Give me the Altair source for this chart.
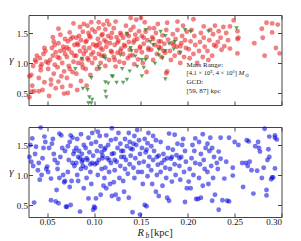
import altair as alt
import pandas as pd

# ---------------- data ----------------
red_points = [
    (0.031, 0.43), (0.033, 0.52), (0.036, 0.53), (0.031, 0.78), (0.033, 0.80), (0.035, 0.95), (0.038, 1.02),
    (0.037, 1.05), (0.039, 1.12), (0.034, 0.62),
    (0.041, 0.53), (0.045, 0.55), (0.047, 0.68), (0.043, 0.88), (0.043, 0.94), (0.042, 1.08), (0.046, 1.15),
    (0.048, 1.20), (0.044, 0.98), (0.049, 1.02), (0.047, 1.25), (0.041, 0.75),
    (0.052, 0.45), (0.054, 0.64), (0.054, 0.72), (0.057, 0.82), (0.051, 0.90), (0.058, 0.97), (0.053, 1.05),
    (0.056, 1.12), (0.059, 1.18), (0.055, 1.25), (0.058, 1.30), (0.057, 1.36), (0.056, 1.43), (0.051, 1.00),
    (0.059, 0.58),
    (0.068, 0.49), (0.062, 0.69), (0.065, 0.78), (0.068, 0.86), (0.061, 0.93), (0.066, 1.00), (0.063, 1.08),
    (0.069, 1.15), (0.064, 1.20), (0.067, 1.27), (0.062, 1.33), (0.069, 1.40), (0.064, 1.47), (0.062, 1.57),
    (0.061, 1.10), (0.068, 1.22), (0.066, 0.60),
    (0.072, 0.50), (0.075, 0.62), (0.071, 0.75), (0.077, 0.85), (0.073, 0.95), (0.078, 1.02), (0.071, 1.10),
    (0.076, 1.17), (0.073, 1.23), (0.079, 1.30), (0.072, 1.36), (0.077, 1.43), (0.074, 1.51), (0.078, 1.66),
    (0.079, 1.12), (0.071, 1.26), (0.074, 0.90), (0.075, 1.40),
    (0.082, 0.55), (0.086, 0.70), (0.081, 0.82), (0.088, 0.92), (0.083, 1.00), (0.087, 1.06), (0.081, 1.12),
    (0.085, 1.20), (0.089, 1.26), (0.082, 1.32), (0.086, 1.38), (0.084, 1.45), (0.088, 1.52), (0.085, 1.60),
    (0.089, 1.15), (0.083, 1.30), (0.081, 1.42), (0.087, 0.98), (0.089, 1.65),
    (0.092, 0.62), (0.096, 0.80), (0.091, 0.90), (0.098, 1.00), (0.093, 1.08), (0.097, 1.14), (0.091, 1.20),
    (0.095, 1.25), (0.099, 1.31), (0.092, 1.37), (0.096, 1.43), (0.094, 1.50), (0.098, 1.56), (0.093, 1.62),
    (0.097, 1.68), (0.099, 1.18), (0.091, 1.35), (0.095, 1.45), (0.094, 1.05),
    (0.103, 0.90), (0.107, 1.00), (0.101, 1.08), (0.105, 1.15), (0.109, 1.22), (0.102, 1.28), (0.106, 1.33),
    (0.104, 1.40), (0.108, 1.46), (0.101, 1.52), (0.105, 1.58), (0.110, 1.64), (0.105, 1.68), (0.108, 1.12),
    (0.103, 1.30), (0.109, 1.48), (0.107, 1.25),
    (0.112, 0.95), (0.116, 1.05), (0.111, 1.12), (0.118, 1.20), (0.113, 1.27), (0.117, 1.33), (0.111, 1.38),
    (0.115, 1.45), (0.119, 1.50), (0.112, 1.56), (0.116, 1.64), (0.114, 1.70), (0.119, 1.18), (0.113, 1.35),
    (0.118, 1.42),
    (0.123, 0.94), (0.127, 1.02), (0.121, 1.10), (0.125, 1.17), (0.129, 1.24), (0.122, 1.30), (0.126, 1.37),
    (0.124, 1.43), (0.128, 1.50), (0.121, 1.58), (0.123, 1.69), (0.128, 1.20), (0.125, 1.34), (0.129, 1.47),
    (0.122, 1.05),
    (0.132, 1.00), (0.136, 1.08), (0.131, 1.15), (0.138, 1.22), (0.133, 1.28), (0.137, 1.35), (0.131, 1.42),
    (0.135, 1.48), (0.139, 1.55), (0.134, 1.62), (0.139, 1.75), (0.138, 1.12), (0.132, 1.30), (0.137, 1.45),
    (0.143, 0.98), (0.147, 1.06), (0.141, 1.13), (0.145, 1.20), (0.149, 1.27), (0.142, 1.34), (0.146, 1.40),
    (0.144, 1.47), (0.148, 1.53), (0.142, 1.60), (0.145, 1.72), (0.149, 1.25), (0.143, 1.38),
    (0.152, 1.00), (0.156, 1.10), (0.151, 1.18), (0.158, 1.25), (0.153, 1.32), (0.157, 1.38), (0.151, 1.45),
    (0.155, 1.52), (0.159, 1.58), (0.154, 1.68), (0.150, 1.75), (0.158, 1.22), (0.153, 1.42), (0.156, 0.85),
    (0.163, 1.05), (0.167, 1.15), (0.161, 1.22), (0.165, 1.30), (0.169, 1.36), (0.162, 1.43), (0.166, 1.50),
    (0.164, 1.58), (0.168, 1.65), (0.169, 1.27), (0.163, 1.40),
    (0.177, 0.83), (0.178, 0.86), (0.172, 1.10), (0.176, 1.17), (0.171, 1.25), (0.175, 1.32), (0.179, 1.39),
    (0.173, 1.46), (0.177, 1.55), (0.178, 1.67), (0.174, 1.20), (0.171, 1.36),
    (0.182, 1.05), (0.186, 1.12), (0.181, 1.20), (0.188, 1.27), (0.183, 1.33), (0.187, 1.40), (0.184, 1.48),
    (0.189, 1.55), (0.189, 1.69), (0.185, 1.30),
    (0.192, 1.00), (0.196, 1.10), (0.191, 1.17), (0.198, 1.25), (0.193, 1.33), (0.197, 1.38), (0.194, 1.45),
    (0.199, 1.52), (0.195, 1.62), (0.192, 1.28),
    (0.202, 1.08), (0.206, 1.15), (0.201, 1.23), (0.208, 1.30), (0.203, 1.36), (0.207, 1.45), (0.206, 1.73),
    (0.204, 1.55),
    (0.210, 1.00), (0.216, 1.10), (0.212, 1.20), (0.218, 1.27), (0.213, 1.35), (0.217, 1.42), (0.217, 1.61),
    (0.214, 1.50),
    (0.222, 1.05), (0.226, 1.12), (0.221, 1.20), (0.228, 1.30), (0.223, 1.38), (0.227, 1.48), (0.224, 1.55),
    (0.229, 1.62),
    (0.230, 1.28), (0.235, 1.42), (0.233, 1.53), (0.238, 1.60), (0.236, 1.22), (0.232, 1.35),
    (0.245, 1.24), (0.243, 1.38), (0.245, 1.61), (0.249, 1.71), (0.241, 1.50), (0.239, 1.28),
    (0.253, 1.16), (0.253, 1.40), (0.254, 1.42), (0.253, 1.53),
    (0.271, 1.33), (0.279, 1.57), (0.280, 1.42),
    (0.284, 1.67), (0.282, 1.12),
    (0.290, 1.66), (0.296, 1.64), (0.290, 1.51), (0.294, 1.25), (0.298, 1.16),
]

green_points = [
    (0.087, 1.07), (0.080, 0.90), (0.088, 0.57), (0.093, 0.55), (0.095, 0.43), (0.094, 0.33), (0.097, 0.33),
    (0.106, 0.90), (0.112, 1.07), (0.112, 0.68), (0.115, 0.66), (0.113, 0.43), (0.120, 0.77), (0.128, 1.13),
    (0.130, 0.90), (0.135, 0.72), (0.135, 1.49), (0.139, 1.25), (0.140, 1.20), (0.151, 1.05), (0.155, 1.05),
    (0.155, 1.55), (0.153, 0.92), (0.171, 1.52), (0.176, 1.45), (0.180, 1.32), (0.169, 1.22), (0.176, 1.20),
    (0.169, 1.13), (0.173, 1.08), (0.186, 1.35), (0.185, 1.23), (0.192, 1.17), (0.197, 1.55), (0.203, 1.52),
    (0.222, 1.53), (0.252, 1.58), (0.165, 0.99), (0.176, 0.73), (0.160, 1.35), (0.097, 0.75), (0.124, 0.67),
    (0.131, 0.67), (0.119, 0.78), (0.112, 0.52), (0.138, 0.86), (0.146, 0.94), (0.151, 0.78), (0.110, 1.10),
    (0.105, 0.94), (0.144, 1.11), (0.098, 0.39), (0.163, 1.30),
]

blue_points = [
    (0.031, 1.30), (0.034, 1.61), (0.038, 1.47), (0.040, 1.08), (0.033, 1.22), (0.036, 0.54), (0.035, 1.15),
    (0.032, 1.50), (0.037, 1.35),
    (0.043, 1.79), (0.047, 1.64), (0.045, 1.28), (0.049, 1.10), (0.042, 0.92), (0.046, 1.45), (0.041, 1.20),
    (0.048, 1.55), (0.044, 1.00),
    (0.050, 1.14), (0.054, 0.94), (0.054, 0.58), (0.060, 0.75), (0.052, 1.45), (0.057, 1.35), (0.055, 1.52),
    (0.058, 1.25), (0.051, 1.05), (0.059, 0.56), (0.056, 1.60),
    (0.063, 1.69), (0.065, 1.66), (0.062, 0.53), (0.068, 0.88), (0.069, 0.90), (0.061, 1.20), (0.066, 1.45),
    (0.064, 1.30), (0.067, 1.00), (0.069, 1.40), (0.063, 0.95), (0.061, 1.10), (0.070, 0.47),
    (0.077, 1.62), (0.075, 1.66), (0.072, 1.48), (0.078, 1.35), (0.073, 1.25), (0.079, 1.15), (0.071, 0.47),
    (0.074, 0.80), (0.076, 0.90), (0.072, 1.05), (0.079, 1.40), (0.074, 1.55), (0.077, 1.20), (0.075, 0.50),
    (0.085, 0.39), (0.089, 0.78), (0.082, 1.00), (0.086, 1.10), (0.081, 1.20), (0.088, 1.25), (0.083, 1.30),
    (0.087, 1.35), (0.084, 1.40), (0.089, 1.50), (0.082, 1.60), (0.086, 1.68), (0.088, 1.15), (0.085, 1.28),
    (0.083, 0.90), (0.081, 1.45), (0.087, 1.22),
    (0.094, 0.61), (0.097, 0.85), (0.092, 0.95), (0.096, 1.05), (0.091, 1.12), (0.098, 1.20), (0.093, 1.25),
    (0.099, 1.32), (0.095, 1.38), (0.091, 1.45), (0.097, 1.52), (0.094, 1.62), (0.098, 1.70), (0.092, 1.28),
    (0.096, 1.18), (0.099, 0.42),
    (0.100, 0.47), (0.101, 0.45), (0.102, 0.61), (0.107, 0.67), (0.110, 0.82), (0.104, 1.00), (0.108, 1.10),
    (0.101, 1.18), (0.105, 1.25), (0.109, 1.32), (0.103, 1.40), (0.107, 1.48), (0.102, 1.55), (0.106, 1.65),
    (0.104, 1.72), (0.109, 1.28), (0.103, 1.20), (0.108, 1.38),
    (0.113, 0.78), (0.117, 0.85), (0.111, 0.95), (0.116, 1.05), (0.112, 1.12), (0.118, 1.20), (0.114, 1.28),
    (0.119, 1.35), (0.111, 1.42), (0.115, 1.50), (0.118, 1.58), (0.113, 1.66), (0.119, 1.78), (0.116, 1.25),
    (0.112, 1.45), (0.119, 0.65),
    (0.123, 0.67), (0.126, 0.60), (0.121, 0.88), (0.127, 0.95), (0.122, 1.08), (0.128, 1.15), (0.124, 1.22),
    (0.129, 1.30), (0.121, 1.36), (0.125, 1.45), (0.128, 1.52), (0.123, 1.60), (0.126, 1.70), (0.129, 1.40),
    (0.122, 1.25),
    (0.132, 0.72), (0.137, 0.62), (0.131, 0.90), (0.136, 1.02), (0.133, 1.10), (0.138, 1.18), (0.134, 1.25),
    (0.139, 1.32), (0.131, 1.40), (0.135, 1.48), (0.138, 1.55), (0.133, 1.60), (0.137, 1.70), (0.139, 1.44),
    (0.132, 1.30),
    (0.141, 0.38), (0.149, 0.34), (0.143, 0.95), (0.147, 1.05), (0.142, 1.12), (0.148, 1.20), (0.144, 1.28),
    (0.149, 1.35), (0.141, 1.43), (0.145, 1.50), (0.148, 1.58), (0.143, 1.65), (0.146, 1.75), (0.142, 1.52),
    (0.154, 0.50), (0.156, 0.48), (0.152, 0.85), (0.157, 0.98), (0.151, 1.05), (0.158, 1.15), (0.153, 1.22),
    (0.159, 1.30), (0.155, 1.38), (0.151, 1.45), (0.157, 1.53), (0.154, 1.60), (0.158, 1.70), (0.156, 1.42),
    (0.166, 0.72), (0.169, 0.65), (0.162, 0.85), (0.167, 1.00), (0.161, 1.08), (0.168, 1.17), (0.163, 1.25),
    (0.169, 1.32), (0.164, 1.40), (0.161, 1.48), (0.166, 1.58), (0.163, 1.65), (0.167, 1.30),
    (0.173, 0.82), (0.177, 0.95), (0.171, 1.05), (0.176, 1.12), (0.172, 1.20), (0.178, 1.28), (0.174, 1.35),
    (0.179, 1.45), (0.171, 1.55), (0.180, 1.69), (0.175, 1.25), (0.178, 0.62),
    (0.180, 0.57), (0.183, 0.89), (0.187, 1.00), (0.181, 1.10), (0.186, 1.18), (0.182, 1.27), (0.188, 1.33),
    (0.184, 1.42), (0.189, 1.52), (0.186, 1.67), (0.183, 1.30),
    (0.197, 0.55), (0.199, 0.78), (0.192, 0.92), (0.196, 1.05), (0.191, 1.15), (0.198, 1.22), (0.193, 1.30),
    (0.197, 1.40), (0.194, 1.50), (0.195, 1.60), (0.191, 1.28),
    (0.203, 0.78), (0.201, 0.89), (0.206, 1.00), (0.202, 1.10), (0.208, 1.20), (0.204, 1.28), (0.207, 1.40),
    (0.208, 1.61), (0.205, 1.50), (0.209, 0.60),
    (0.211, 0.60), (0.214, 0.62), (0.216, 0.82), (0.212, 0.95), (0.218, 1.10), (0.213, 1.18), (0.217, 1.25),
    (0.214, 1.35), (0.219, 1.45), (0.212, 1.55), (0.216, 1.68),
    (0.226, 0.57), (0.229, 0.67), (0.222, 0.85), (0.227, 0.95), (0.221, 1.05), (0.225, 1.15), (0.228, 1.30),
    (0.223, 1.40), (0.226, 1.45), (0.221, 1.52), (0.224, 1.62),
    (0.233, 0.42), (0.237, 0.58), (0.239, 0.94), (0.232, 1.10), (0.235, 1.27), (0.233, 1.39), (0.235, 1.62),
    (0.231, 1.20),
    (0.242, 0.57), (0.244, 0.56), (0.248, 0.99), (0.248, 1.12), (0.241, 1.22), (0.244, 1.62), (0.250, 1.55),
    (0.259, 0.80), (0.258, 1.20), (0.254, 1.50),
    (0.270, 0.69), (0.268, 1.08), (0.262, 1.20), (0.264, 1.15), (0.263, 1.58), (0.265, 1.56), (0.266, 1.22),
    (0.274, 1.07), (0.277, 1.39), (0.276, 1.45), (0.275, 1.55), (0.272, 1.48), (0.279, 0.95),
    (0.284, 0.75), (0.284, 0.66), (0.290, 0.96), (0.281, 1.12), (0.285, 1.25), (0.287, 1.30), (0.286, 1.43),
    (0.287, 1.64), (0.282, 1.77), (0.289, 0.93),
    (0.291, 0.96), (0.293, 1.11), (0.293, 1.62), (0.293, 1.66), (0.295, 1.59),
]

x_ticks = [0.05, 0.10, 0.15, 0.20, 0.25, 0.30]
y_ticks = [0.5, 1.0, 1.5]
x_domain = [0.03, 0.30]
y_domain = [0.3, 1.8]

annotation_lines = ["Mass Range:", "[4.1 × 10⁵, 4 × 10⁶]", "GCD:", "[59, 87] kpc"]

# ---------------- styling ----------------
FONT = "Liberation Serif"
W, H = 253, 90
RED, BLUE, GREEN = "#e31a1c", "#0000dd", "#1f7a1f"

red_df = pd.DataFrame(red_points, columns=["rb", "gamma"])
green_df = pd.DataFrame(green_points, columns=["rb", "gamma"])
blue_df = pd.DataFrame(blue_points, columns=["rb", "gamma"])
one = pd.DataFrame({"k": [0]})

xs = alt.Scale(domain=x_domain, nice=False, zero=False)
ys = alt.Scale(domain=y_domain, nice=False, zero=False)

common = dict(offset=-4, tickSize=4, domain=False, tickColor="#444", tickWidth=1, grid=False,
              labelFont=FONT, labelFontSize=9, labelColor="#111", title=None)


def x_axis(orient, labels):
    return alt.Axis(orient=orient, values=x_ticks, format=".2f", labels=labels, labelPadding=0, **common)


def y_axis(orient, labels):
    return alt.Axis(orient=orient, values=y_ticks, format=".1f", labels=labels, labelPadding=1, **common)


def text(label, x, y, size=7, style="normal", align="left"):
    return alt.Chart(one).mark_text(
        text=label, font=FONT, fontSize=size, fontStyle=style, align=align,
        baseline="middle", color="#222"
    ).encode(x=alt.value(x), y=alt.value(y))


def panel(main_layers, extras):
    frame = alt.Chart(red_df).mark_point(opacity=0).encode(
        x=alt.X("rb:Q", scale=xs, axis=x_axis("top", False)),
        y=alt.Y("gamma:Q", scale=ys, axis=y_axis("right", False)),
    )
    gamma_label = text("γ", -17, H / 2, size=11, style="italic", align="center")
    return alt.layer(*main_layers, frame, gamma_label, *extras).resolve_axis(
        x="independent", y="independent"
    ).properties(width=W, height=H)


red = alt.Chart(red_df).mark_circle(size=24, color=RED, opacity=0.55).encode(
    x=alt.X("rb:Q", scale=xs, axis=x_axis("bottom", False)),
    y=alt.Y("gamma:Q", scale=ys, axis=y_axis("left", True)),
)
green = alt.Chart(green_df).mark_point(shape="triangle-down", filled=True, size=20, color=GREEN,
                                         opacity=0.7).encode(
    x=alt.X("rb:Q", scale=xs, axis=None),
    y=alt.Y("gamma:Q", scale=ys, axis=None),
)
blue = alt.Chart(blue_df).mark_circle(size=24, color=BLUE, opacity=0.55).encode(
    x=alt.X("rb:Q", scale=xs, axis=x_axis("bottom", True)),
    y=alt.Y("gamma:Q", scale=ys, axis=y_axis("left", True)),
)

top_texts = [
    text(annotation_lines[0], 158, 50),
    text(annotation_lines[1], 158, 58, size=6.5),
    text("M", 210, 58, style="italic"),
    text("⊙", 216.5, 60, size=5),
    text(annotation_lines[2], 158, 67),
    text(annotation_lines[3], 158, 76),
]
bottom_texts = [
    text("R", 109, 106, size=10.5, style="italic"),
    text("b", 117, 109, size=7.5, style="italic"),
    text("[kpc]", 122, 106, size=10.5),
]

top = panel([red, green], top_texts)
bottom = panel([blue], bottom_texts)

chart = alt.vconcat(top, bottom, spacing=18).properties(
    padding={"left": 0.5, "top": 6, "right": 5, "bottom": 0},
    background="white",
).configure_view(stroke="#444", strokeWidth=1)

chart.save("out.html", embed_options={"renderer": "svg", "actions": False})
